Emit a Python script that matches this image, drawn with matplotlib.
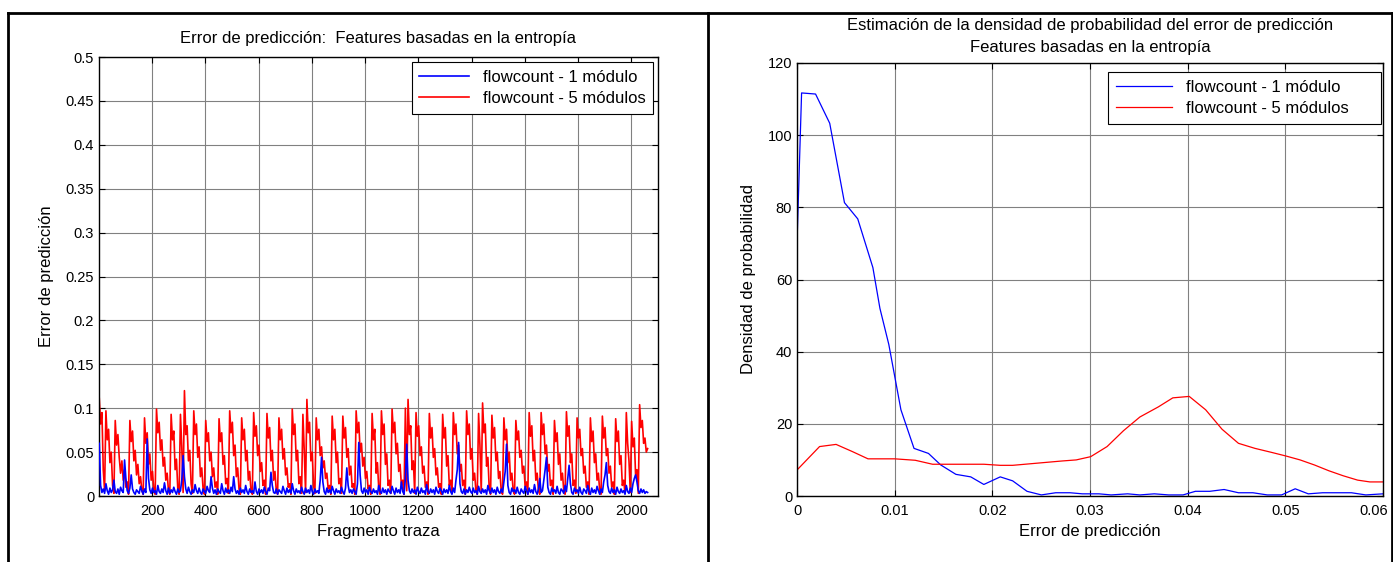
import numpy as np
import matplotlib
matplotlib.use("Agg")
import matplotlib.pyplot as plt
from matplotlib.lines import Line2D
from matplotlib.ticker import FormatStrFormatter
from matplotlib.transforms import ScaledTranslation

plt.rcParams['font.family'] = ['Liberation Sans', 'DejaVu Sans']
plt.rcParams['font.size'] = 10

# --- left panel: prediction error per trace fragment (read every 5 fragments, in 1/1000) ---
step = 5
err_5mod = [
    111, 82, 95, 30, 6,
    97, 64, 76, 38, 50, 12, 3,
    86, 58, 70, 44, 26, 40, 18, 30, 10, 16, 2,
    86, 62, 74, 40, 52, 24, 36, 14, 22, 6, 2,
    89, 60, 72, 36, 48, 18, 28, 6, 2,
    99, 72, 84, 52, 64, 34, 44, 18, 26, 6, 2,
    93, 64, 74, 30, 42, 8, 2,
    93, 56, 4,
    120, 70, 80, 40, 52, 14, 3,
    97, 70, 82, 44, 56, 22, 32, 8, 2,
    86, 62, 72, 40, 50, 22, 32, 10, 16, 2,
    88, 62, 72, 36, 46, 14, 20, 3,
    97, 72, 84, 46, 58, 22, 32, 8, 2,
    89, 64, 76, 40, 52, 18, 28, 6, 2,
    95, 68, 80, 46, 58, 28, 38, 12, 18, 2,
    94, 66, 78, 40, 52, 18, 28, 6, 2,
    89, 64, 76, 42, 54, 24, 32, 10, 14, 2,
    99, 70, 82, 40, 52, 14, 22, 3,
    93, 52, 4,
    110, 72, 84, 40, 50, 12, 3,
    89, 64, 76, 46, 56, 32, 40, 20, 26, 8, 12, 2,
    91, 64, 76, 38, 50, 14, 20, 3,
    91, 66, 78, 44, 54, 24, 34, 10, 14, 2,
    97, 72, 84, 50, 60, 34, 44, 20, 28, 8, 12, 2,
    94, 64, 76, 26, 38, 8, 2,
    97, 70, 82, 36, 48, 12, 18, 3,
    99, 72, 84, 48, 60, 28, 36, 12, 18, 2,
    100, 6,
    110, 70, 80, 30, 40, 3,
    95, 68, 80, 46, 56, 26, 34, 10, 16, 2,
    94, 66, 78, 44, 54, 24, 32, 10, 14, 2,
    93, 66, 78, 34, 46, 12, 18, 3,
    95, 70, 82, 48, 58, 28, 36, 12, 18, 2,
    97, 70, 82, 42, 54, 18, 26, 6, 2,
    94, 58, 4,
    106, 72, 82, 34, 44, 8, 2,
    92, 66, 78, 40, 50, 20, 28, 6, 2,
    89, 64, 76, 38, 50, 18, 26, 6, 2,
    86, 64, 74, 44, 52, 26, 34, 10, 16, 2,
    95, 68, 80, 40, 52, 18, 26, 6, 2,
    95, 70, 82, 48, 58, 28, 36, 12, 18, 2,
    86, 62, 72, 36, 48, 18, 26, 6, 2,
    96, 68, 80, 38, 48, 12, 18, 3,
    89, 66, 76, 46, 54, 26, 34, 10, 16, 2,
    89, 62, 74, 38, 48, 18, 26, 6, 2,
    91, 66, 78, 46, 54, 26, 34, 10, 16, 2,
    88, 62, 74, 36, 46, 12, 18, 3,
    95, 60, 40, 4,
    85, 56, 66, 22, 30, 3,
    104, 78, 86, 60, 66, 50, 54,
]
err_1mod = [
    60, 12, 4, 8, 3, 14, 6, 2, 9, 4, 7, 18, 5, 3, 8, 2, 10, 6, 4, 41,
    20, 6, 3, 9, 24, 8, 4, 2, 7, 5, 3, 11, 6, 2, 8, 4, 65, 20, 7, 3,
    9, 4, 6, 2, 12, 5, 3, 8, 4, 15, 6, 2, 9, 3, 7, 4, 10, 5, 2, 8,
    4, 6, 18, 46, 22, 8, 3, 10, 5, 2, 7, 4, 13, 6, 3, 9, 4, 2, 8, 5,
    3, 11, 6, 4, 22, 9, 3, 7, 2, 8, 5, 3, 14, 6, 2, 9, 4, 7, 3, 10,
    5, 22, 8, 3, 6, 2, 9, 4, 7, 3, 12, 5, 2, 8, 4, 6, 3, 16, 5, 2,
    8, 4, 7, 3, 10, 5, 2, 9, 6, 27, 12, 4, 3, 8, 2, 7, 5, 3, 11, 6,
    2, 9, 4, 7, 3, 14, 6, 2, 8, 4, 6, 3, 10, 5, 2, 9, 4, 7, 3, 12,
    5, 2, 8, 4, 6, 3, 18, 44, 16, 5, 2, 9, 4, 7, 3, 11, 6, 2, 8, 4,
    6, 3, 10, 5, 2, 9, 32, 12, 4, 7, 3, 8, 5, 2, 14, 61, 24, 6, 3, 9,
    4, 7, 2, 10, 5, 3, 8, 4, 6, 2, 12, 5, 3, 9, 4, 7, 2, 8, 5, 3,
    11, 6, 2, 9, 4, 7, 3, 16, 5, 2, 20, 59, 18, 6, 3, 8, 4, 7, 2, 10,
    5, 3, 9, 4, 6, 2, 13, 5, 3, 8, 4, 7, 2, 10, 5, 3, 9, 6, 2, 8,
    4, 7, 3, 12, 5, 2, 9, 4, 18, 30, 61, 14, 5, 3, 8, 2, 7, 4, 10, 5,
    3, 9, 4, 6, 2, 11, 5, 3, 8, 4, 7, 2, 12, 6, 3, 9, 4, 7, 2, 10,
    5, 3, 8, 4, 16, 28, 59, 12, 4, 2, 9, 5, 7, 3, 10, 4, 2, 8, 5, 3,
    11, 6, 2, 9, 4, 7, 3, 13, 5, 2, 8, 20, 4, 6, 18, 30, 44, 10, 4, 2,
    9, 5, 7, 3, 11, 4, 2, 8, 6, 3, 12, 5, 20, 35, 14, 4, 2, 9, 5, 7,
    3, 10, 4, 2, 8, 6, 3, 12, 5, 2, 9, 4, 7, 3, 11, 6, 2, 8, 4, 16,
    24, 38, 12, 5, 3, 9, 4, 7, 2, 10, 5, 3, 8, 4, 6, 2, 12, 5, 3, 9,
    4, 14, 20, 24, 16, 6, 3, 8, 4, 7, 3, 5, 4,
]

# --- right panel: estimated density of the prediction error ---
dens_x_1mod = [0.0, 0.00047, 0.0019, 0.00335, 0.00486, 0.00622, 0.00777, 0.00849,
               0.0094, 0.01064, 0.01198, 0.01346, 0.01472, 0.01627, 0.01779,
               0.01913, 0.02081, 0.02208, 0.02355, 0.02502, 0.02649, 0.02796,
               0.02922, 0.03091, 0.03217, 0.03385, 0.03511, 0.03658, 0.03806,
               0.03953, 0.04079, 0.04226, 0.04373, 0.0452, 0.04668, 0.04815,
               0.04962, 0.05101, 0.05235, 0.05382, 0.0553, 0.05677, 0.05824, 0.06]
dens_y_1mod = [70, 111.7, 111.4, 103.3, 81.3, 76.8, 63.3, 52,
               42, 23.9, 13.2, 11.8, 8.6, 6.0, 5.3,
               3.2, 5.3, 4.2, 1.3, 0.3, 0.9, 0.9,
               0.6, 0.6, 0.3, 0.6, 0.3, 0.6, 0.3,
               0.3, 1.3, 1.3, 1.8, 0.9, 0.9, 0.3,
               0.3, 2.0, 0.6, 0.9, 0.9, 0.9, 0.3, 0.6]
dens_x_5mod = [0.0, 0.00231, 0.004, 0.00568, 0.00727, 0.01001, 0.01211, 0.01388,
               0.01619, 0.01913, 0.02081, 0.02208, 0.02502, 0.02712, 0.02859,
               0.03007, 0.03175, 0.03343, 0.03511, 0.037, 0.03848, 0.04016,
               0.04184, 0.04352, 0.0452, 0.04689, 0.04857, 0.05004, 0.05151,
               0.05298, 0.05445, 0.05593, 0.0574, 0.05866, 0.06]
dens_y_5mod = [7.2, 13.7, 14.3, 12.3, 10.3, 10.3, 9.9, 8.8,
               8.8, 8.8, 8.5, 8.5, 9.2, 9.7, 10.0,
               10.9, 13.7, 18.1, 21.9, 24.7, 27.2, 27.6,
               23.9, 18.5, 14.6, 13.2, 12.1, 11.1, 10.0,
               8.6, 7.0, 5.6, 4.4, 3.9, 3.9]

labels = ['flowcount - 1 módulo', 'flowcount - 5 módulos']
blue = '#0000ff'
red = '#ff0000'
grid_kw = dict(color='#808080', linewidth=0.8)
txt = 12

fig = plt.figure(figsize=(13.93, 5.62), dpi=100)

# panel frames like the original document layout
for xs, ys in [([8, 1392], [549, 549]), ([8, 8], [549, 0]),
               ([708, 708], [549, 0]), ([1392, 1392], [549, 0])]:
    fig.add_artist(Line2D([x / 1393 for x in xs], [y / 562 for y in ys],
                          color='black', linewidth=2))


def style(ax):
    ax.grid(True, **grid_kw)
    ax.set_axisbelow(True)
    ax.tick_params(direction='in', top=True, right=True, length=4,
                   labelsize=10.5, width=0.8)
    ax.tick_params(axis='x', pad=6)
    for s in ax.spines.values():
        s.set_linewidth(1.0)


# left
ax1 = fig.add_axes([99 / 1393, 66 / 562, 559 / 1393, 439 / 562])
e5 = np.array(err_5mod) / 1000
e1 = np.array(err_1mod) / 1000
ax1.plot(1 + step * np.arange(len(e1)), e1, color=blue, lw=1.2, label=labels[0], zorder=3)
ax1.plot(1 + step * np.arange(len(e5)), e5, color=red, lw=1.2, label=labels[1], zorder=2)
ax1.set_xlim(0, 2100)
ax1.set_ylim(0, 0.5)
ax1.set_xticks(np.arange(200, 2001, 200))
ax1.set_yticks(np.arange(0, 0.501, 0.05))
ax1.yaxis.set_major_formatter(FormatStrFormatter('%g'))
style(ax1)
ax1.set_title('Error de predicción:  Features basadas en la entropía', fontsize=txt, pad=10)
ax1.set_xlabel('Fragmento traza', fontsize=txt, labelpad=4)
ax1.set_ylabel('Error de predicción', fontsize=txt, labelpad=8)
leg1 = ax1.legend(loc='upper right', fontsize=txt, frameon=True, fancybox=False,
                  edgecolor='black', framealpha=1, handlelength=3.0,
                  borderaxespad=0.3, labelspacing=0.4, borderpad=0.45)
leg1.get_frame().set_linewidth(0.8)

# right
ax2 = fig.add_axes([797 / 1393, 66 / 562, 586 / 1393, 433 / 562])
ax2.plot(dens_x_1mod, dens_y_1mod, color=blue, lw=0.9, label=labels[0])
ax2.plot(dens_x_5mod, dens_y_5mod, color=red, lw=0.9, label=labels[1])
ax2.set_xlim(0, 0.06)
ax2.set_ylim(0, 120)
ax2.set_xticks(np.arange(0, 0.0601, 0.01))
ax2.set_yticks(np.arange(0, 121, 20))
ax2.xaxis.set_major_formatter(FormatStrFormatter('%g'))
style(ax2)
ax2.set_title('Estimación de la densidad de probabilidad del error de predicción\n'
              'Features basadas en la entropía', fontsize=txt, pad=8, linespacing=1.6)
ax2.set_xlabel('Error de predicción', fontsize=txt, labelpad=4)
ax2.set_ylabel('Densidad de probabilidad', fontsize=txt, labelpad=8)
# the legend box in the original is wider than its text, stretch it to that width
leg2 = ax2.legend(loc='upper right', fontsize=txt, frameon=True, fancybox=False,
                  edgecolor='black', framealpha=1, handlelength=3.4,
                  bbox_to_anchor=(0.531, 0.0, 0.466, 0.979), mode='expand',
                  borderaxespad=0.0, labelspacing=0.4, borderpad=0.45)
leg2.get_frame().set_linewidth(0.8)

# last x tick label sits against the page edge, nudge it inwards
last = ax2.xaxis.get_major_ticks()[-1].label1
last.set_transform(last.get_transform() + ScaledTranslation(-9 / 100, 0, fig.dpi_scale_trans))

fig.savefig('out.png', dpi=100)
